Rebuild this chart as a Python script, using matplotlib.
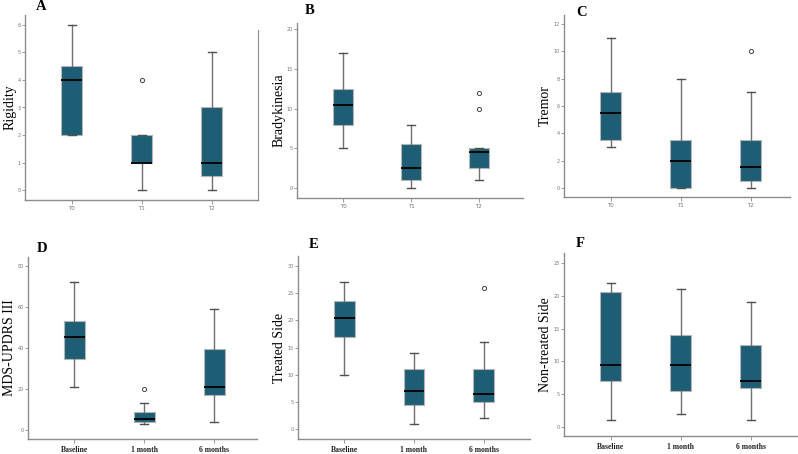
import matplotlib
matplotlib.use("Agg")
import matplotlib.pyplot as plt

# five-number summaries: low whisker, Q1, median, Q3, high whisker
groups_top = ["T0", "T1", "T2"]
groups_bottom = ["Baseline", "1 month", "6 months"]

rigidity_low = [2, 0, 0]
rigidity_q1 = [2, 1, 0.5]
rigidity_med = [4, 1, 1]
rigidity_q3 = [4.5, 2, 3]
rigidity_high = [6, 2, 5]
rigidity_out = [[], [4], []]

brady_low = [5, 0, 1]
brady_q1 = [8, 1, 2.5]
brady_med = [10.5, 2.5, 4.5]
brady_q3 = [12.5, 5.5, 5]
brady_high = [17, 8, 5]
brady_out = [[], [], [10, 12]]

tremor_low = [3, 0, 0]
tremor_q1 = [3.5, 0, 0.5]
tremor_med = [5.5, 2, 1.5]
tremor_q3 = [7, 3.5, 3.5]
tremor_high = [11, 8, 7]
tremor_out = [[], [], [10]]

updrs_low = [21, 3, 4]
updrs_q1 = [34.5, 4, 17]
updrs_med = [45.5, 5.5, 21]
updrs_q3 = [53, 9, 39.5]
updrs_high = [72, 13, 59]
updrs_out = [[], [20], []]

treated_low = [10, 1, 2]
treated_q1 = [17, 4.5, 5]
treated_med = [20.5, 7, 6.5]
treated_q3 = [23.5, 11, 11]
treated_high = [27, 14, 16]
treated_out = [[], [], [26]]

nontreated_low = [1, 2, 1]
nontreated_q1 = [7, 5.5, 6]
nontreated_med = [9.5, 9.5, 7]
nontreated_q3 = [20.5, 14, 12.5]
nontreated_high = [22, 21, 19]
nontreated_out = [[], [], []]

BOX = "#1d5e74"
GREY = "#8c8c8c"
W, H = 798, 454


def make_stats(low, q1, med, q3, high, out):
    return [dict(whislo=a, q1=b, med=c, q3=d, whishi=e, fliers=f)
            for a, b, c, d, e, f in zip(low, q1, med, q3, high, out)]


def draw(ax, stats, names, ylabel, yticks, ylim, xlim, letter, letter_xy, bottom_row):
    ax.bxp(stats, positions=range(3), widths=0.3, capwidths=0.11,
           patch_artist=True, showfliers=True,
           boxprops=dict(facecolor=BOX, edgecolor="#b5b5b5", linewidth=0.8),
           medianprops=dict(color="black", linewidth=1.3),
           whiskerprops=dict(color="#707070", linewidth=1.0),
           capprops=dict(color="#505050", linewidth=1.0),
           flierprops=dict(marker="o", markersize=3, markerfacecolor="white",
                           markeredgecolor="#444444", markeredgewidth=0.7))
    ax.set_xlim(*xlim)
    ax.set_ylim(*ylim)
    ax.set_yticks(yticks)
    ax.set_yticklabels([str(v) for v in yticks])
    ax.set_xticks(range(3))
    ax.set_xticklabels(names)
    for side in ["top", "right"]:
        ax.spines[side].set_visible(False)
    for side in ["left", "bottom"]:
        ax.spines[side].set_color(GREY)
        ax.spines[side].set_linewidth(1.0)
    ax.tick_params(axis="y", length=2, width=0.6, color=GREY,
                   labelsize=3.5, labelcolor="#777777", pad=1)
    if bottom_row:
        ax.tick_params(axis="x", length=3, width=0.6, color=GREY, pad=2)
        for t in ax.get_xticklabels():
            t.set_family("Liberation Serif")
            t.set_fontsize(5.5)
            t.set_fontweight("bold")
            t.set_color("#222222")
    else:
        ax.tick_params(axis="x", length=3, width=0.6, color=GREY,
                       labelsize=4, labelcolor="#777777", pad=1.5)
    ax.set_ylabel(ylabel, family="Liberation Serif", fontsize=10, labelpad=1)
    fig.text(letter_xy[0] / W, 1 - letter_xy[1] / H, letter, family="Liberation Serif",
             fontsize=10.5, fontweight="bold", va="center", ha="center")


def rect(left, right, top, bottom):
    return [left / W, (H - bottom) / H, (right - left) / W, (bottom - top) / H]


fig = plt.figure(figsize=(7.98, 4.54), dpi=100)

axA = fig.add_axes(rect(25, 258, 15, 200))
draw(axA, make_stats(rigidity_low, rigidity_q1, rigidity_med, rigidity_q3, rigidity_high, rigidity_out),
     groups_top, "Rigidity", [0, 1, 2, 3, 4, 5, 6], (-0.36, 6.36), (-0.67, 2.66), "A", (41, 6), False)
axA.spines["right"].set_visible(True)
axA.spines["right"].set_color(GREY)
axA.spines["right"].set_bounds(-0.36, 5.8)

axB = fig.add_axes(rect(297, 523, 23, 198))
draw(axB, make_stats(brady_low, brady_q1, brady_med, brady_q3, brady_high, brady_out),
     groups_top, "Bradykinesia", [0, 5, 10, 15, 20], (-1.26, 20.8), (-0.68, 2.65), "B", (310, 10), False)

axC = fig.add_axes(rect(564, 790, 15, 197))
draw(axC, make_stats(tremor_low, tremor_q1, tremor_med, tremor_q3, tremor_high, tremor_out),
     groups_top, "Tremor", [0, 2, 4, 6, 8, 10, 12], (-0.66, 12.66), (-0.67, 2.56), "C", (582, 13), False)

axD = fig.add_axes(rect(28, 257, 257, 439))
draw(axD, make_stats(updrs_low, updrs_q1, updrs_med, updrs_q3, updrs_high, updrs_out),
     groups_bottom, "MDS-UPDRS III", [0, 20, 40, 60, 80], (-4.4, 84.4), (-0.66, 2.61), "D", (42, 248), True)

axE = fig.add_axes(rect(298, 530, 256, 439))
draw(axE, make_stats(treated_low, treated_q1, treated_med, treated_q3, treated_high, treated_out),
     groups_bottom, "Treated Side", [0, 5, 10, 15, 20, 25, 30], (-1.84, 31.84), (-0.66, 2.66), "E", (314, 245), True)

axF = fig.add_axes(rect(564, 797, 253, 436))
draw(axF, make_stats(nontreated_low, nontreated_q1, nontreated_med, nontreated_q3, nontreated_high, nontreated_out),
     groups_bottom, "Non-treated Side", [0, 5, 10, 15, 20, 25], (-1.37, 26.5), (-0.67, 2.66), "F", (580, 243), True)

fig.savefig("out.png", dpi=100)
